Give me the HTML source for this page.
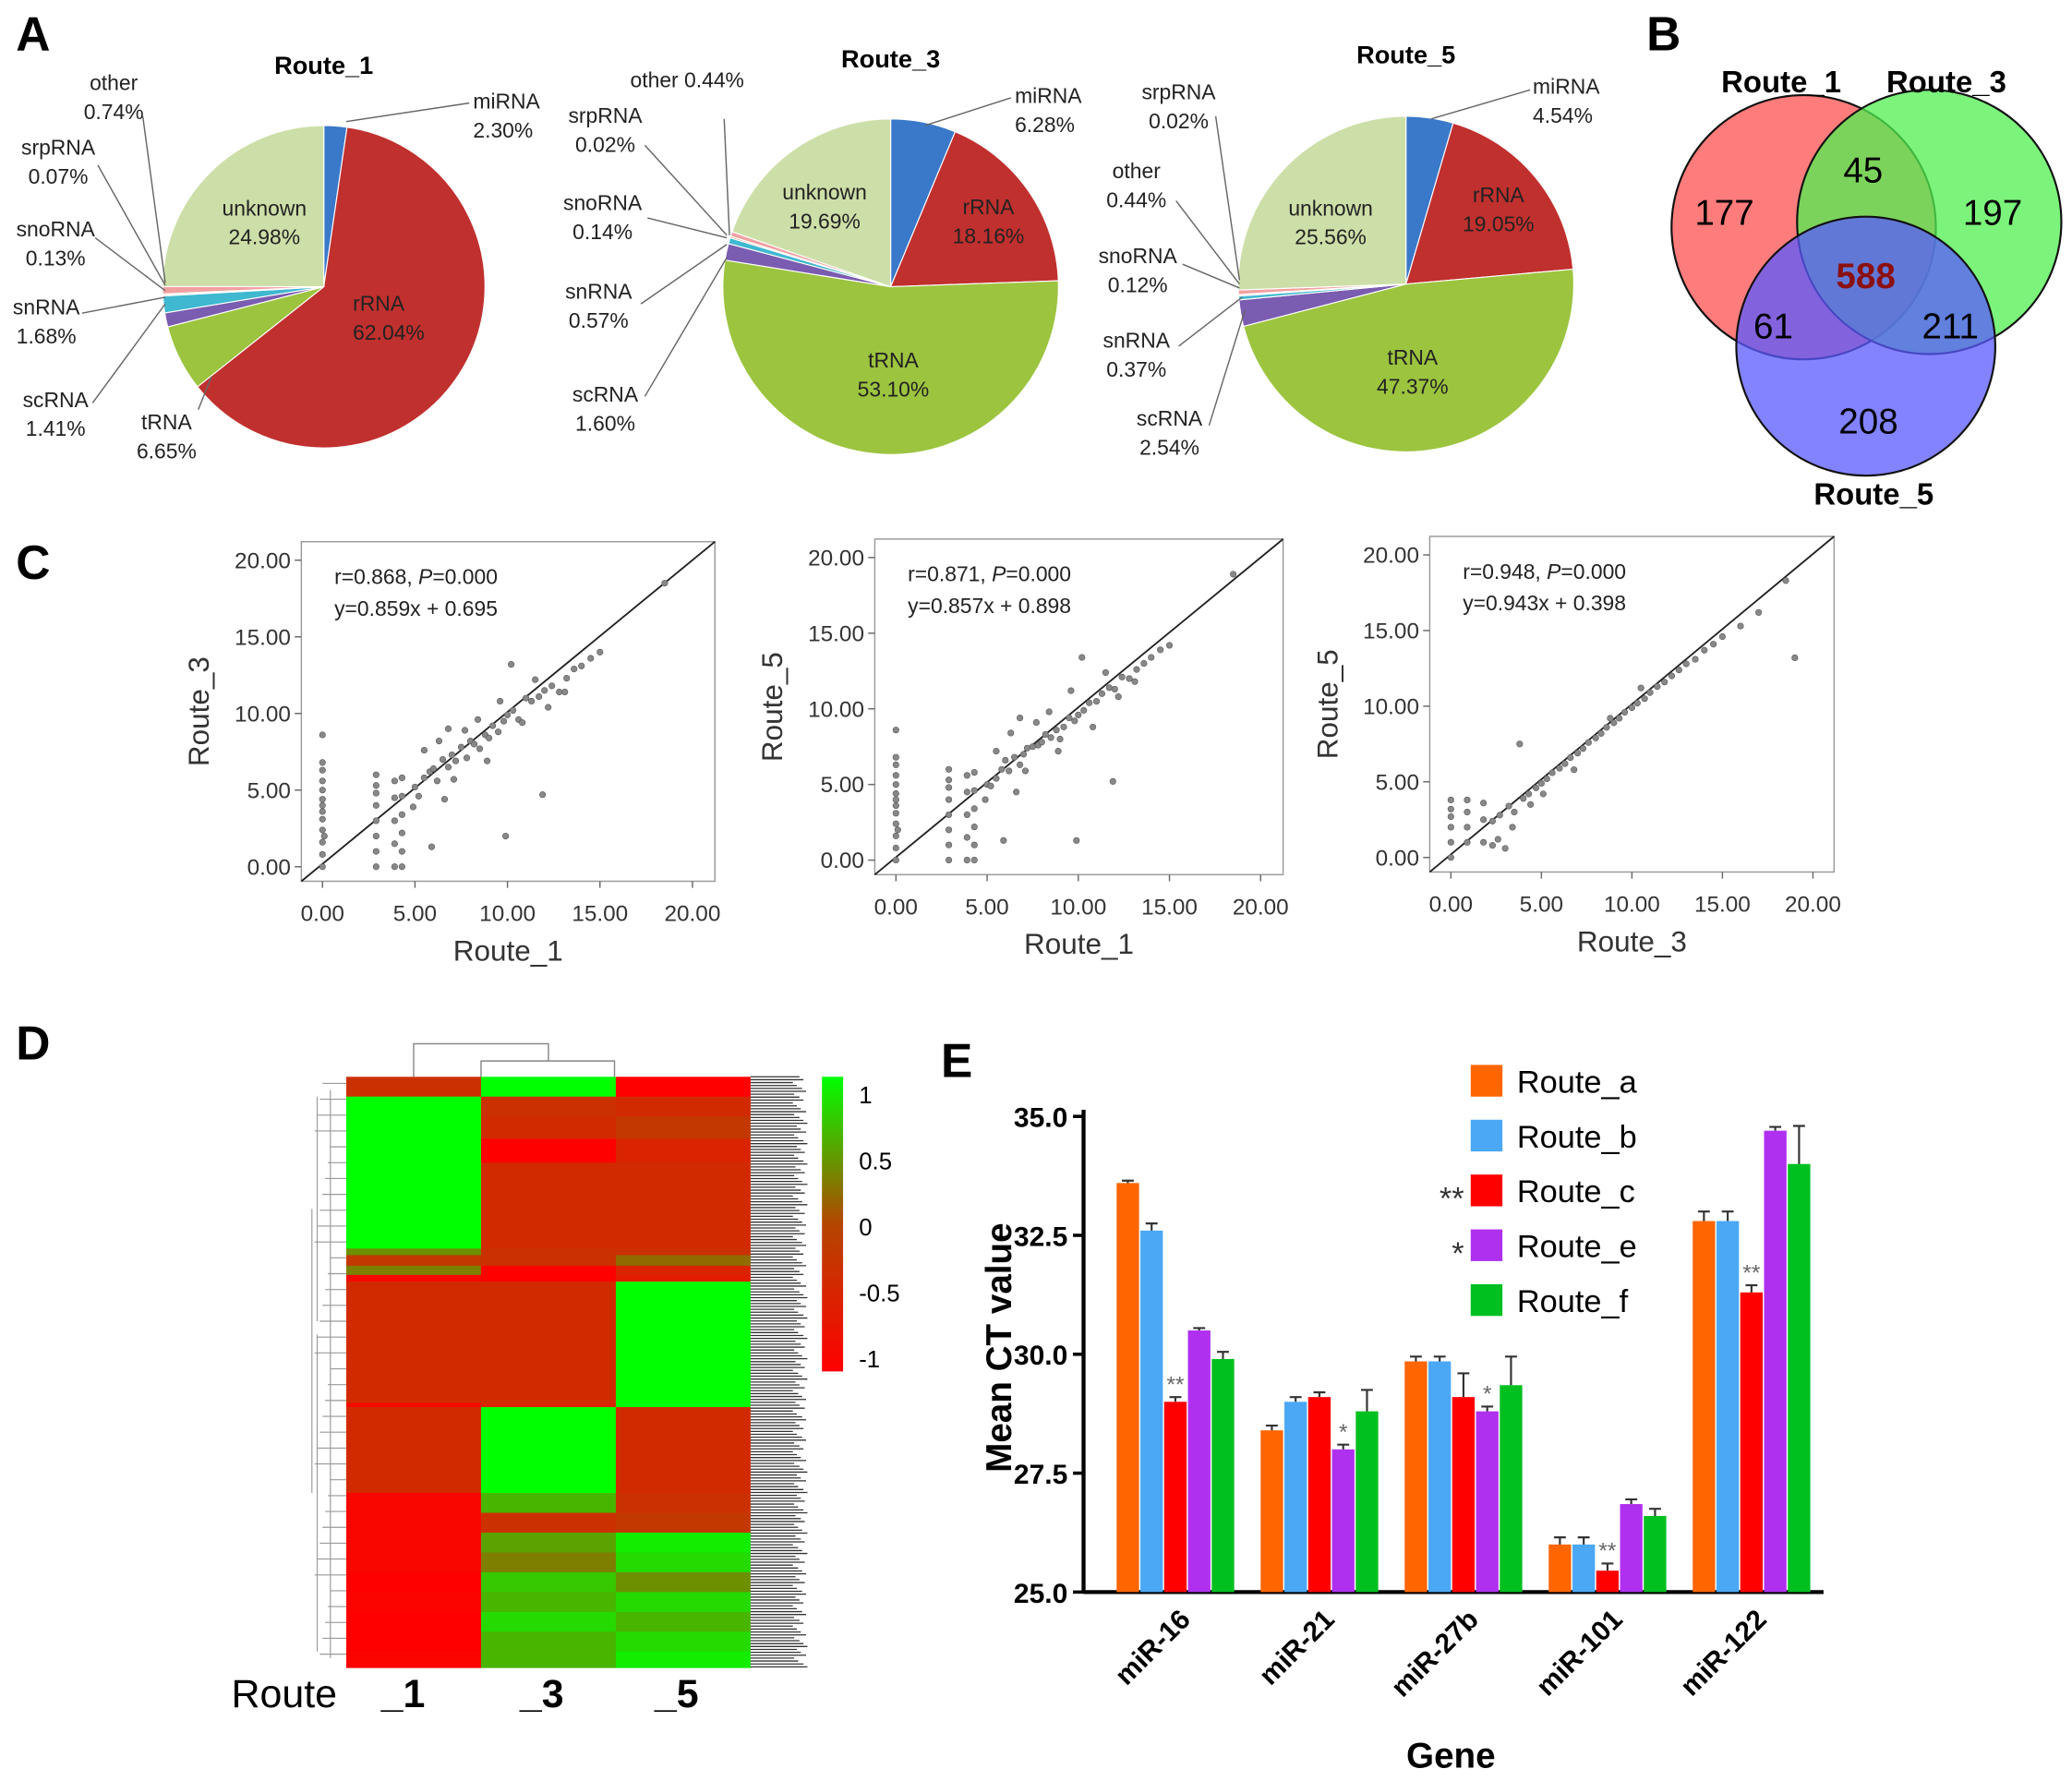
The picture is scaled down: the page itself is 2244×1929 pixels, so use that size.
<!DOCTYPE html>
<html><head><meta charset="utf-8"><style>
html,body{margin:0;padding:0;background:#fff;}
svg{display:block;font-family:"Liberation Sans",Arial,sans-serif;}
</style></head><body>
<svg id="fig" width="2244" height="1929" viewBox="0 0 1568 1348" xmlns="http://www.w3.org/2000/svg">
<g id="gA"></g>
<g id="gB"></g>
<g id="gC"></g>
<g id="gD"></g>
<g id="gE"></g>
</svg>
<script>
// ---------- DATA ----------
const pieCategories = ["miRNA","rRNA","tRNA","scRNA","snRNA","snoRNA","srpRNA","other","unknown"];
const pie1Values = [2.30,62.04,6.65,1.41,1.68,0.13,0.07,0.74,24.98];
const pie3Values = [6.28,18.16,53.10,1.60,0.57,0.14,0.02,0.44,19.69];
const pie5Values = [4.54,19.05,47.37,2.54,0.37,0.12,0.02,0.44,25.56];

const vennLabels = ["177","45","197","588","61","211","208"];

const scatterTicks = ["0.00","5.00","10.00","15.00","20.00"];
const sc1X = [0,0,0,0,0,0,0,0,0,0,0,0,0,0.1,2.9,2.9,2.9,2.9,2.9,2.9,2.9,2.9,3.9,3.9,3.9,3.9,3.9,4.3,4.3,4.3,4.3,4.3,4.3,5,5.2,5.5,5.8,6,6.2,6.5,6.8,7,7.2,7.5,7.8,8,8.2,8.5,8.8,9,9.2,9.5,9.8,10,10.3,10.6,11,11.3,11.7,12,12.4,12.8,13.2,13.6,14,14.5,15,5.5,6.3,7.1,8.4,9.6,10.8,11.5,6.6,7.7,8.9,12.2,13.1,11.9,9.9,18.5,6.8,10.2,4.9,5.9];
const sc1Y = [0,0.8,1.6,2.4,3.1,3.6,4.0,4.4,5.0,5.6,6.3,6.8,8.6,2.0,0,1,2,3,4,4.8,5.3,6,0,1.5,3,4.5,5.6,0,1,2.2,3.4,4.6,5.8,5.2,4.6,5.8,6.2,6.4,5.6,7,6.5,7.3,6.9,7.8,7.1,8.2,8.0,7.7,8.6,8.4,9.2,8.8,9.5,9.9,10.2,9.6,11,10.8,11.1,11.5,11.8,11.4,12.3,12.9,13.1,13.6,14,7.6,8.2,5.7,9.6,10.8,9.4,12.2,4.4,8.9,6.9,10.4,11.4,4.7,2.0,18.5,9.0,13.2,3.9,1.3];
const sc2X = sc1X;
const sc2Y = [0,0.8,1.6,2.4,3.1,3.6,4.0,4.4,5.0,5.6,6.3,6.8,8.6,2.0,0,1,2,3,4,4.8,5.3,6,0,1.5,3,4.5,5.6,0,1,2.2,3.4,4.6,5.8,5.0,4.9,5.4,6.0,6.6,5.9,6.8,6.3,7.0,7.4,7.5,7.6,7.8,8.3,8.1,8.6,8.0,8.8,9.4,9.2,9.6,9.9,10.4,10.5,11.0,11.4,11.3,12.1,12.0,12.6,13.0,13.4,13.9,14.2,7.2,8.4,5.9,9.8,11.2,8.8,12.4,4.5,9.1,7.2,10.8,11.8,5.2,1.3,18.9,9.4,13.4,4.0,1.3];
const sc3X = [0,0,0,0,0,0,0.9,0.9,0.9,0.9,1.8,1.8,1.8,2.3,2.3,2.7,3.2,3.5,4.0,4.3,4.7,5.0,5.3,5.6,6.0,6.3,6.6,7.0,7.3,7.6,8.0,8.3,8.6,9.0,9.3,9.6,10,10.3,10.7,11,11.4,11.8,12.2,12.6,13,13.5,14,14.5,15,16,17,18.5,19,3.8,4.4,5.1,2.6,3.0,3.4,6.8,8.8,10.5];
const sc3Y = [0,1,2,2.7,3.2,3.8,1,2,3,3.8,1,2.5,3.6,0.8,2.4,2.8,3.4,3.0,3.9,4.2,4.6,4.9,5.2,5.6,5.9,6.2,6.6,6.9,7.2,7.6,7.9,8.2,8.6,8.9,9.2,9.6,9.9,10.2,10.5,10.9,11.3,11.6,12.0,12.4,12.8,13.1,13.7,14.1,14.6,15.3,16.2,18.3,13.2,7.5,3.5,4.2,1.2,0.6,2.0,5.8,9.2,11.2];

// heatmap rows: relative height + values per route
const heatRowH = [15,15,17,18,65,5,8,7,5,45,47,3,65,15,15,15,15,15,15,15,15,12];
const heatR1 = [-0.3,1,1,1,1,0.4,-0.2,0.3,-0.9,-0.4,-0.4,-0.9,-0.4,-0.9,-0.9,-0.9,-0.9,-1,-0.95,-1,-1,-0.95];
const heatR3 = [1,-0.3,-0.4,-1,-0.4,-0.3,-0.3,-1,-1,-0.4,-0.4,-0.5,1,0.6,-0.3,0.5,0.3,0.7,0.6,0.8,0.6,0.6];
const heatR5 = [-1,-0.4,-0.2,-0.5,-0.4,-0.3,0.2,-0.5,-0.6,1,1,1,-0.4,-0.3,-0.2,0.9,0.8,0.4,0.8,0.6,0.8,0.9];
const heatTicks = ["1","0.5","0","-0.5","-1"];

const genes = ["miR-16","miR-21","miR-27b","miR-101","miR-122"];
const routeNames = ["Route_a","Route_b","Route_c","Route_e","Route_f"];
const barA = [33.6,28.4,29.85,26.0,32.8];
const barB = [32.6,29.0,29.85,26.0,32.8];
const barC = [29.0,29.1,29.1,25.45,31.3];
const barE = [30.5,28.0,28.8,26.85,34.7];
const barF = [29.9,28.8,29.35,26.6,34.0];
const errA = [0.05,0.1,0.1,0.15,0.2];
const errB = [0.15,0.1,0.1,0.15,0.2];
const errC = [0.1,0.1,0.5,0.15,0.15];
const errE = [0.05,0.1,0.1,0.1,0.08];
const errF = [0.15,0.45,0.6,0.15,0.8];
const sigC = ["**","","","**","**"];
const sigE = ["","*","*","",""];
const yTicks = [25.0,27.5,30.0,32.5,35.0];

// ---------- helpers ----------
const NS="http://www.w3.org/2000/svg";
function mk(parent,tag,attrs,text){const e=document.createElementNS(NS,tag);for(const k in attrs)e.setAttribute(k,attrs[k]);if(text!==undefined)e.textContent=text;parent.appendChild(e);return e;}

// ---------- Panel A ----------
const gA=document.getElementById('gA');
let t=mk(gA,'text',{x:12,y:38,'font-size':36,'font-weight':'bold'},'A');


const pieColors=["#3a78c9","#c0302e","#9cc43f","#7a5cb0","#3fb8d0","#e08040","#d060a0","#f0a0a0","#cddfa8"];
function drawPie(vals,cx,cy,r,title,tx,ty,labels,name){
  const g=mk(gA,'g',{});
  
  
  let a=-Math.PI/2;
  const tot=vals.reduce((s,v)=>s+v,0);
  vals.forEach((v,i)=>{
    const a2=a+v/tot*2*Math.PI;
    const x1=cx+r*Math.cos(a),y1=cy+r*Math.sin(a),x2=cx+r*Math.cos(a2),y2=cy+r*Math.sin(a2);
    const p=mk(g,'path',{d:`M${cx},${cy}L${x1},${y1}A${r},${r} 0 ${a2-a>Math.PI?1:0} 1 ${x2},${y2}Z`,fill:pieColors[i],stroke:'#fff','stroke-width':0.8});
    
    
    a=a2;
  });
  const tt=mk(g,'text',{x:tx,y:ty,'font-size':19,'font-weight':'bold','text-anchor':'middle'},title);
  
  
  labels.forEach(L=>{
    if(L.line) mk(g,'polyline',{points:L.line,fill:'none',stroke:'#666','stroke-width':1});
    L.t.forEach((s,k)=>{const e=mk(g,'text',{x:L.x,y:L.y+k*22,'font-size':16,fill:'#222','text-anchor':L.a||'start'},s);
      
      });
  });
}
drawPie(pie1Values,245,217,122,'Route_1',245,56,[
 {x:358,y:82,t:['miRNA','2.30%'],line:'262,92 355,78'},
 {x:267,y:235,t:['rRNA','62.04%'],a:'start'},
 {x:200,y:163,t:['unknown','24.98%'],a:'middle'},
 {x:126,y:325,t:['tRNA','6.65%'],a:'middle',line:'150,310 160,285'},
 {x:42,y:308,t:['scRNA','1.41%'],a:'middle',line:'70,305 125,230'},
 {x:35,y:238,t:['snRNA','1.68%'],a:'middle',line:'62,237 125,225'},
 {x:42,y:179,t:['snoRNA','0.13%'],a:'middle',line:'72,180 125,220'},
 {x:44,y:117,t:['srpRNA','0.07%'],a:'middle',line:'74,125 125,216'},
 {x:86,y:68,t:['other','0.74%'],a:'middle',line:'108,88 125,214'}
],'pie-route-1');
drawPie(pie3Values,674,217,127,'Route_3',674,51,[
 {x:768,y:78,t:['miRNA','6.28%'],line:'700,95 765,74'},
 {x:748,y:162,t:['rRNA','18.16%'],a:'middle'},
 {x:624,y:151,t:['unknown','19.69%'],a:'middle'},
 {x:676,y:278,t:['tRNA','53.10%'],a:'middle'},
 {x:520,y:66,t:['other  0.44%'],a:'middle',line:'548,90 552,178'},
 {x:458,y:93,t:['srpRNA','0.02%'],a:'middle',line:'488,110 550,178'},
 {x:456,y:159,t:['snoRNA','0.14%'],a:'middle',line:'490,165 550,180'},
 {x:453,y:226,t:['snRNA','0.57%'],a:'middle',line:'485,230 550,185'},
 {x:458,y:304,t:['scRNA','1.60%'],a:'middle',line:'488,300 550,195'}
],'pie-route-3');
drawPie(pie5Values,1064,215,127,'Route_5',1064,48,[
 {x:1160,y:71,t:['miRNA','4.54%'],line:'1083,90 1158,68'},
 {x:1134,y:153,t:['rRNA','19.05%'],a:'middle'},
 {x:1007,y:163,t:['unknown','25.56%'],a:'middle'},
 {x:1069,y:276,t:['tRNA','47.37%'],a:'middle'},
 {x:892,y:75,t:['srpRNA','0.02%'],a:'middle',line:'920,88 938,212'},
 {x:860,y:135,t:['other','0.44%'],a:'middle',line:'890,152 938,215'},
 {x:861,y:199,t:['snoRNA','0.12%'],a:'middle',line:'895,200 938,218'},
 {x:860,y:263,t:['snRNA','0.37%'],a:'middle',line:'892,262 940,225'},
 {x:885,y:322,t:['scRNA','2.54%'],a:'middle',line:'915,322 942,235'}
],'pie-route-5');

// ---------- Panel B ----------
const gB=document.getElementById('gB');
t=mk(gB,'text',{x:1246,y:38,'font-size':36,'font-weight':'bold'},'B');


[[1365,172,100,'rgba(255,80,80,0.75)','venn-route-1'],[1460,168,100,'rgba(80,240,80,0.75)','venn-route-3'],[1412,262,98,'rgba(90,90,255,0.75)','venn-route-5']].forEach(c=>{
 const e=mk(gB,'circle',{cx:c[0],cy:c[1],r:c[2],fill:c[3],stroke:'#111','stroke-width':1.5});
 
 
});
const vpos=[[1305,170],[1410,138],[1508,170],[1412,218],[1342,256],[1476,256],[1414,328]];
vennLabels.forEach((s,i)=>{const e=mk(gB,'text',{x:vpos[i][0],y:vpos[i][1],'font-size':27,'text-anchor':'middle',fill:i===3?'#8b1010':'#000','font-weight':i===3?'bold':'normal'},s);
 
 });
[['Route_1',1348,70],['Route_3',1473,70],['Route_5',1418,382]].forEach(v=>{const e=mk(gB,'text',{x:v[1],y:v[2],'font-size':23,'font-weight':'bold','text-anchor':'middle'},v[0]);
 
 });

// ---------- Panel C ----------
const gC=document.getElementById('gC');
t=mk(gC,'text',{x:12,y:438,'font-size':36,'font-weight':'bold'},'C');


function scatter(X,Y,cfg){
 const g=mk(gC,'g',{});
 
 
 const sx=v=>cfg.x0+(v)/20*(cfg.x20-cfg.x0), sy=v=>cfg.y0-(v)/20*(cfg.y0-cfg.y20);
 mk(g,'rect',{x:cfg.bx,y:cfg.by,width:cfg.bw,height:cfg.bh,fill:'#fff',stroke:'#999','stroke-width':1});
 scatterTicks.forEach((s,i)=>{const v=i*5;
  let e=mk(g,'text',{x:sx(v),y:cfg.by+cfg.bh+30,'font-size':17,'text-anchor':'middle',fill:'#333'},s);
   
  mk(g,'line',{x1:sx(v),x2:sx(v),y1:cfg.by+cfg.bh,y2:cfg.by+cfg.bh+5,stroke:'#666'});
  e=mk(g,'text',{x:cfg.bx-8,y:sy(v)+6,'font-size':17,'text-anchor':'end',fill:'#333'},s);
   
  mk(g,'line',{x1:cfg.bx-5,x2:cfg.bx,y1:sy(v),y2:sy(v),stroke:'#666'});
 });
 mk(g,'line',{x1:cfg.bx,y1:cfg.by+cfg.bh,x2:cfg.bx+cfg.bw,y2:cfg.by,stroke:'#222','stroke-width':1.3});
 X.forEach((x,i)=>{const c=mk(g,'circle',{cx:sx(x),cy:sy(Y[i]),r:2.3,fill:'#888',stroke:'#555','stroke-width':0.4});
   });
 let e=mk(g,'text',{x:cfg.bx+cfg.bw/2,y:cfg.by+cfg.bh+60,'font-size':22,'text-anchor':'middle',fill:'#333'},cfg.xl);
  
 e=mk(g,'text',{x:0,y:0,'font-size':22,'text-anchor':'middle',fill:'#333',transform:`translate(${cfg.bx-70},${cfg.by+cfg.bh/2}) rotate(-90)`},cfg.yl);
  
 e=mk(g,'text',{x:cfg.bx+25,y:cfg.by+32,'font-size':16,fill:'#222'});
 e.innerHTML=cfg.r;
  
 e=mk(g,'text',{x:cfg.bx+25,y:cfg.by+56,'font-size':16,fill:'#222'},cfg.eq);
  
}
scatter(sc1X,sc1Y,{name:'scatter-route1-vs-route3',bx:228,by:410,bw:313,bh:257,x0:244,x20:524,y0:656,y20:424,xl:'Route_1',yl:'Route_3',r:'r=0.868, <tspan font-style="italic">P</tspan>=0.000',eq:'y=0.859x + 0.695'});
scatter(sc2X,sc2Y,{name:'scatter-route1-vs-route5',bx:662,by:408,bw:309,bh:254,x0:678,x20:954,y0:651,y20:422,xl:'Route_1',yl:'Route_5',r:'r=0.871, <tspan font-style="italic">P</tspan>=0.000',eq:'y=0.857x + 0.898'});
scatter(sc3X,sc3Y,{name:'scatter-route3-vs-route5',bx:1082,by:406,bw:306,bh:254,x0:1098,x20:1372,y0:649,y20:420,xl:'Route_3',yl:'Route_5',r:'r=0.948, <tspan font-style="italic">P</tspan>=0.000',eq:'y=0.943x + 0.398'});

// ---------- Panel D ----------
const gD=document.getElementById('gD');
t=mk(gD,'text',{x:12,y:802,'font-size':36,'font-weight':'bold'},'D');


function hcol(v){
 if(v<=0){const f=v+1; return `rgb(${Math.round(255-f*75)},${Math.round(f*70)},0)`;}
 return `rgb(${Math.round(180*(1-v))},${Math.round(70+185*v)},0)`;
}
const hx=262,cw=102,hTop=815,hTotal=447; let hy=hTop;
const hSum=heatRowH.reduce((s,v)=>s+v,0);
heatRowH.forEach((h0,i)=>{
 const h=h0/hSum*hTotal;
 [heatR1[i],heatR3[i],heatR5[i]].forEach((v,j)=>{
  const r=mk(gD,'rect',{x:hx+j*cw,y:hy,width:cw+0.5,height:h+0.5,fill:hcol(v)});
   
 });
 hy+=h;
});
let lb=mk(gD,'rect',{x:568,y:815,width:40,height:447,fill:'#fff'});
 
for(let y=815;y<1262;y+=2.2) mk(gD,'line',{x1:568,x2:600+((Math.round(y*7))%12),y1:y,y2:y,stroke:'#333','stroke-width':0.9});
mk(gD,'path',{d:"M313,815V790H415V803M364,815V803H465V815",fill:'none',stroke:'#888','stroke-width':1});
let dd="";for(let y=820;y<1260;y+=12){dd+=`M262,${y}H${250-((y*13)%14)}`;}
dd+="M250,825V1255M240,830V1000M240,1010V1250M236,915V1130";
mk(gD,'path',{d:dd,fill:'none',stroke:'#999','stroke-width':0.8});
const defs=mk(gD,'defs',{});const lg=mk(defs,'linearGradient',{id:'cb',x1:0,y1:0,x2:0,y2:1});
[[0,1],[0.25,0.5],[0.5,0],[0.75,-0.5],[1,-1]].forEach(s=>mk(lg,'stop',{offset:s[0],'stop-color':hcol(s[1])}));
let cb=mk(gD,'rect',{x:622,y:815,width:16,height:223,fill:'url(#cb)'});
 
heatTicks.forEach((s,i)=>{const e=mk(gD,'text',{x:650,y:835+i*50,'font-size':18},s);
  });
[['Route',215,1292,'normal'],['_1',305,1292,'bold'],['_3',410,1292,'bold'],['_5',512,1292,'bold']].forEach(v=>{
 const e=mk(gD,'text',{x:v[1],y:v[2],'font-size':30,'font-weight':v[3],'text-anchor':'middle'},v[0]);
  });

// ---------- Panel E ----------
const gE=document.getElementById('gE');
t=mk(gE,'text',{x:712,y:815,'font-size':36,'font-weight':'bold'},'E');


const ex0=820,ex1=1380,ey25=1205,ey35=845;
const ys=v=>ey25-(v-25)/10*(ey25-ey35);
const gc=i=>890+i*109;
mk(gE,'line',{x1:ex0,x2:ex0,y1:ey35-5,y2:ey25,stroke:'#000','stroke-width':3});
mk(gE,'line',{x1:ex0,x2:ex1,y1:ey25,y2:ey25,stroke:'#000','stroke-width':3});
yTicks.forEach(v=>{mk(gE,'line',{x1:ex0-8,x2:ex0,y1:ys(v),y2:ys(v),stroke:'#000','stroke-width':2.5});
 const e=mk(gE,'text',{x:ex0-12,y:ys(v)+8,'font-size':21,'font-weight':'bold','text-anchor':'end'},v.toFixed(1));
  });
const barCols=["#ff6600","#4aa8f5","#ff0000","#b030f0","#00c020"];
const series=[barA,barB,barC,barE,barF], errs=[errA,errB,errC,errE,errF];
genes.forEach((gname,i)=>{
 series.forEach((s,j)=>{
  const x=gc(i)-45+j*18, y=ys(s[i]);
  const r=mk(gE,'rect',{x:x,y:y,width:17,height:ey25-y,fill:barCols[j]});
   
  const ye=ys(s[i]+errs[j][i]);
  mk(gE,'path',{d:`M${x+8.5},${y}V${ye}M${x+4},${ye}H${x+13}`,stroke:'#333','stroke-width':1.5,fill:'none'});
 });
 [[sigC,2],[sigE,3]].forEach(([arr,j])=>{ if(arr[i]){const x=gc(i)-45+j*18+8.5;
  const e=mk(gE,'text',{x:x,y:ys(series[j][i]+errs[j][i])-4,'font-size':17,'text-anchor':'middle',fill:'#666'},arr[i]);
   }});
 const e=mk(gE,'text',{x:0,y:0,'font-size':21,'font-weight':'bold','text-anchor':'end',transform:`translate(${gc(i)+12},${ey25+22}) rotate(-45)`},gname);
  
});
let e=mk(gE,'text',{x:1098,y:1338,'font-size':27,'font-weight':'bold','text-anchor':'middle'},'Gene');
 
e=mk(gE,'text',{x:0,y:0,'font-size':27,'font-weight':'bold','text-anchor':'middle',transform:'translate(765,1020) rotate(-90)'},'Mean CT value');
 
const legMarks=["","","**","*",""];
routeNames.forEach((n,j)=>{const y=818+j*41.5;
 const r=mk(gE,'rect',{x:1113,y:y-12,width:24,height:24,fill:barCols[j]});
  
 const t2=mk(gE,'text',{x:1148,y:y+9,'font-size':24},n);
  
 if(legMarks[j]){const m=mk(gE,'text',{x:1108,y:y+14,'font-size':24,'text-anchor':'end',fill:'#333'},legMarks[j]);
   }
});
</script>
</body></html>
